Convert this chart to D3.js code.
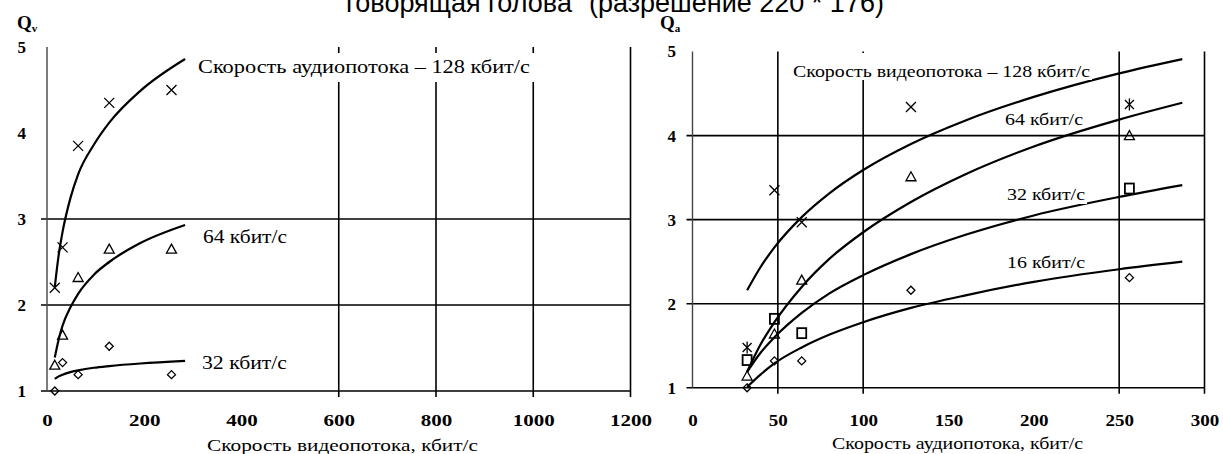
<!DOCTYPE html>
<html><head><meta charset="utf-8">
<script src="https://cdn.jsdelivr.net/npm/d3@7"></script>
<style>body{margin:0;background:#fff} svg{display:block}</style>
</head><body>
<svg id="c" width="1223" height="454"></svg>
<script>
// ---------- DATA ----------
const titleText = 'говорящая голова" (разрешение 220 * 176)';

// Left panel: Qv vs video bitrate, series by audio bitrate
const leftX = [16, 32, 64, 128, 256];
const leftQ128 = [2.2, 2.67, 3.85, 4.35, 4.5];
const leftQ64 = [1.3, 1.65, 2.32, 2.65, 2.65];
const leftQ32 = [1.0, 1.33, 1.19, 1.52, 1.19];
const leftTrendX = [16, 24, 32, 48, 64, 96, 128, 192, 284];
const leftTrend128 = [2.21, 2.58, 2.85, 3.24, 3.52, 3.86, 4.12, 4.49, 4.86];
const leftTrend64 = [1.39, 1.60, 1.76, 1.97, 2.13, 2.35, 2.50, 2.72, 2.93];
const leftTrend32 = [1.14, 1.17, 1.19, 1.22, 1.24, 1.27, 1.29, 1.32, 1.35];
const leftXTicks = [0, 200, 400, 600, 800, 1000, 1200];
const leftYTicks = [1, 2, 3, 4, 5];

// Right panel: Qa vs audio bitrate, series by video bitrate
const rightX = [32, 48, 64, 128, 256];
const rightQ128 = [1.48, 3.35, 2.97, 4.34, 4.37];
const rightQ128Marks = ["star", "x", "x", "x", "star"];
const rightQ64 = [1.14, 1.64, 2.28, 3.51, 4.0];
const rightQ32 = [1.33, 1.82, 1.65, null, 3.37];
const rightQ16 = [1.0, 1.32, 1.32, 2.16, 2.31];
const rightTrendX = [32, 40, 48, 64, 80, 100, 128, 160, 200, 250, 287];
const rightTrend128 = [2.16, 2.44, 2.67, 3.03, 3.31, 3.59, 3.90, 4.18, 4.46, 4.74, 4.91];
const rightTrend64 = [1.19, 1.52, 1.78, 2.20, 2.53, 2.85, 3.21, 3.54, 3.87, 4.19, 4.39];
const rightTrend32 = [1.19, 1.42, 1.60, 1.89, 2.12, 2.34, 2.59, 2.82, 3.05, 3.27, 3.41];
const rightTrend16 = [1.01, 1.16, 1.29, 1.48, 1.63, 1.78, 1.95, 2.10, 2.26, 2.41, 2.50];
const rightXTicks = [0, 50, 100, 150, 200, 250, 300];
const rightYTicks = [1, 2, 3, 4, 5];

// ---------- DRAW ----------
const svg = d3.select("#c");
const serif = "'Liberation Serif','Times New Roman',serif";
const sans = "'Liberation Sans',Arial,sans-serif";

svg.append("text").attr("x", 615).attr("y", 12).attr("text-anchor", "middle")
  .attr("font-family", sans).attr("font-size", 27).attr("fill", "#000").text(titleText);

const xL = d3.scaleLinear().domain([0, 1200]).range([47, 630.5]);
const yL = d3.scaleLinear().domain([1, 5]).range([391, 47]);
const xR = d3.scaleLinear().domain([0, 300]).range([692.5, 1204.5]);
const yR = d3.scaleLinear().domain([1, 5]).range([387.8, 51.5]);

function grid(x, y, hVals, vVals, leftExt) {
  const g = svg.append("g").attr("stroke", "#000").attr("stroke-width", 1.6);
  hVals.forEach(v => g.append("line").attr("x1", x(0) - leftExt).attr("x2", x.range()[1])
    .attr("y1", y(v)).attr("y2", y(v)));
  vVals.forEach(v => g.append("line").attr("x1", x(v)).attr("x2", x(v))
    .attr("y1", y(5)).attr("y2", y(1) + 6));
  g.append("line").attr("x1", x(0)).attr("x2", x(0)).attr("y1", y(5)).attr("y2", y(1))
    .attr("stroke", "#444").attr("stroke-width", 1.4);
}
grid(xL, yL, [1, 2, 3], [600, 800, 1000, 1200], 6);
grid(xR, yR, [1, 2, 3, 4], [50, 100, 250, 300], 6);

function axes(x, y, xTicks, yTicks, yAxisX, digitW) {
  const ax = svg.append("g").attr("transform", `translate(0,${414})`)
    .call(d3.axisBottom(x).tickValues(xTicks).tickSize(0).tickPadding(0).tickFormat(d3.format("d")));
  ax.select(".domain").remove();
  ax.selectAll("text").attr("font-family", serif).attr("font-size", 17).attr("font-weight", "bold")
    .attr("fill", "#000")
    .attr("textLength", d => String(d).length * digitW).attr("lengthAdjust", "spacingAndGlyphs");
  const ay = svg.append("g").attr("transform", `translate(${yAxisX},0)`)
    .call(d3.axisLeft(y).tickValues(yTicks).tickSize(0).tickPadding(0).tickFormat(d3.format("d")));
  ay.select(".domain").remove();
  ay.selectAll("text").attr("font-family", serif).attr("font-size", 17).attr("font-weight", "bold")
    .attr("fill", "#000");
}
axes(xL, yL, leftXTicks, leftYTicks, 26, 10.5);
axes(xR, yR, rightXTicks, rightYTicks, 676, 9.5);

// Trend curves
function curve(x, y, xs, ys) {
  const line = d3.line().x(d => x(d[0])).y(d => y(d[1])).curve(d3.curveMonotoneX);
  svg.append("path").datum(xs.map((v, i) => [v, ys[i]])).attr("d", line)
    .attr("fill", "none").attr("stroke", "#000").attr("stroke-width", 2.2);
}
curve(xL, yL, leftTrendX, leftTrend128);
curve(xL, yL, leftTrendX, leftTrend64);
curve(xL, yL, leftTrendX, leftTrend32);
curve(xR, yR, rightTrendX, rightTrend128);
curve(xR, yR, rightTrendX, rightTrend64);
curve(xR, yR, rightTrendX, rightTrend32);
curve(xR, yR, rightTrendX, rightTrend16);

// Markers
const mg = svg.append("g").attr("stroke", "#000").attr("stroke-width", 1.3).attr("fill", "none");
function marker(type, cx, cy) {
  if (type === "x" || type === "star") {
    const s = type === "x" ? 5 : 4.5;
    mg.append("path").attr("d", `M${cx - s},${cy - s}L${cx + s},${cy + s}M${cx - s},${cy + s}L${cx + s},${cy - s}`);
    if (type === "star") mg.append("path").attr("d", `M${cx},${cy - 6}L${cx},${cy + 6}`);
  } else if (type === "tri") {
    mg.append("path").attr("d", `M${cx},${cy - 5}L${cx + 5},${cy + 4}L${cx - 5},${cy + 4}Z`);
  } else if (type === "dia") {
    mg.append("path").attr("d", `M${cx},${cy - 4}L${cx + 4},${cy}L${cx},${cy + 4}L${cx - 4},${cy}Z`);
  } else if (type === "sq") {
    mg.append("rect").attr("x", cx - 4.5).attr("y", cy - 5).attr("width", 9).attr("height", 10)
      .attr("stroke-width", 1.8);
  }
}
function points(x, y, xs, ys, type) {
  xs.forEach((v, i) => {
    if (ys[i] == null) return;
    marker(Array.isArray(type) ? type[i] : type, x(v), y(ys[i]));
  });
}
points(xL, yL, leftX, leftQ128, "x");
points(xL, yL, leftX, leftQ64, "tri");
points(xL, yL, leftX, leftQ32, "dia");
points(xR, yR, rightX, rightQ128, rightQ128Marks);
points(xR, yR, rightX, rightQ64, "tri");
points(xR, yR, rightX, rightQ32, "sq");
points(xR, yR, rightX, rightQ16, "dia");

// Labels
function label(x, baseline, text, width, size, bgTop, bgBot, bgExtra) {
  if (bgTop != null) {
    svg.append("rect").attr("x", x - 2).attr("y", bgTop).attr("width", width + 4 + (bgExtra || 0))
      .attr("height", bgBot - bgTop).attr("fill", "#fff");
  }
  svg.append("text").attr("x", x).attr("y", baseline).attr("font-family", serif)
    .attr("font-size", size).attr("fill", "#000")
    .attr("textLength", width).attr("lengthAdjust", "spacingAndGlyphs").text(text);
}
label(198, 73, "Скорость аудиопотока – 128 кбит/с", 332, 18, 53, 82, 5);
label(203, 243, "64 кбит/с", 84, 18, null, null);
label(202, 369, "32 кбит/с", 85, 18, null, null);
label(793, 77, "Скорость видеопотока – 128 кбит/с", 297, 17, 53, 80);
label(1005, 125, "64 кбит/с", 78, 17, null, null);
label(1007, 200, "32 кбит/с", 78, 17, 186, 204);
label(1007, 268, "16 кбит/с", 78, 17, 255, 272);
label(207, 451, "Скорость видеопотока, кбит/с", 271, 17, null, null);
label(832, 449, "Скорость аудиопотока, кбит/с", 251, 17, null, null);

// Axis names
function qname(x, sub) {
  const t = svg.append("text").attr("x", x).attr("y", 29).attr("font-family", serif)
    .attr("font-weight", "bold").attr("font-size", 19).attr("fill", "#000").text("Q");
  t.append("tspan").attr("font-size", 11).attr("dy", 3).text(sub);
}
qname(17, "v");
qname(660, "a");
</script>
</body></html>
